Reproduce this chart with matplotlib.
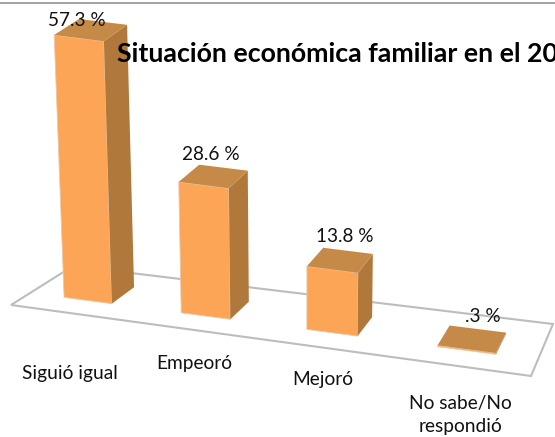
import matplotlib
matplotlib.use("Agg")
import matplotlib.pyplot as plt
from matplotlib.patches import Polygon

categories = ["Siguió igual", "Empeoró", "Mejoró", "No sabe/No\nrespondió"]
values = [57.3, 28.6, 13.8, 0.3]
value_labels = ["57.3 %", "28.6 %", "13.8 %", ".3 %"]
title = "Situación económica familiar en el 20"

# where the plot floor sits on the canvas, pixels: front left, front right, back right, back left
floor_corners = [(11, 305), (531, 376), (553, 324), (73, 266)]
category_label_pos = [(70, 373), (194, 364), (323, 380), (460, 415)]
value_label_pos = [(77, 21), (211, 154), (345, 237), (483, 316)]

px_per_unit = 4.58
# bar slots along the floor, in category units
bar_start = [0.267, 1.19, 2.18, 3.21]
bar_width = [0.376, 0.387, 0.40, 0.46]
depth_front = 0.31
depth_back = 0.71

front_color = "#FDA557"
side_color = "#B0783A"
top_color = "#C68A48"
floor_color = "#BDBDBD"

plt.rcParams["font.family"] = ["Lato", "DejaVu Sans"]


def project(u, v, value=0):
    # bilinear position on the floor, then straight up by the value
    s = u / 4
    (x0, y0), (x1, y1), (x2, y2), (x3, y3) = floor_corners
    x = (1 - v) * ((1 - s) * x0 + s * x1) + v * ((1 - s) * x3 + s * x2)
    y = (1 - v) * ((1 - s) * y0 + s * y1) + v * ((1 - s) * y3 + s * y2)
    rise = value * px_per_unit
    # verticals lean a little towards the middle of the chart
    return (x - 0.00016 * (300 - x) * rise, y - rise)


def draw_bar(ax, i, value):
    u0 = bar_start[i]
    u1 = u0 + bar_width[i]
    fl = project(u0, depth_front)
    fr = project(u1, depth_front)
    br = project(u1, depth_back)
    tfl = project(u0, depth_front, value)
    tfr = project(u1, depth_front, value)
    tbr = project(u1, depth_back, value)
    tbl = project(u0, depth_back, value)
    ax.add_patch(Polygon([fl, fr, tfr, tfl], fc=front_color, ec="#E9C9A6", lw=0.6, zorder=3))
    ax.add_patch(Polygon([fr, br, tbr, tfr], fc=side_color, ec="none", zorder=3))
    ax.add_patch(Polygon([tfl, tfr, tbr, tbl], fc=top_color, ec="none", zorder=4))


fig = plt.figure(figsize=(5.55, 4.37), dpi=100)
ax = fig.add_axes([0, 0, 1, 1])
ax.set_xlim(0, 555)
ax.set_ylim(437, 0)
ax.axis("off")

# frame line along the top
ax.plot([0, 555], [3, 3], color="#A3A3A3", lw=1.4, zorder=1)

ax.add_patch(Polygon(floor_corners, closed=True, fc="none", ec=floor_color, lw=1.5, zorder=2))

for i, val in enumerate(values):
    draw_bar(ax, i, val)

for lab, pos in zip(value_labels, value_label_pos):
    ax.text(pos[0], pos[1], lab, fontsize=13.7, ha="center", va="center",
            color="#111111", zorder=5)

for cat, pos in zip(categories, category_label_pos):
    ax.text(pos[0], pos[1], cat, fontsize=13.8, ha="center", va="center",
            linespacing=1.48, color="#111111", zorder=5)

ax.text(117, 54, title, fontsize=19.3, fontweight="bold", ha="left", va="center",
        color="black", zorder=6)

fig.savefig("out.png", dpi=100)
